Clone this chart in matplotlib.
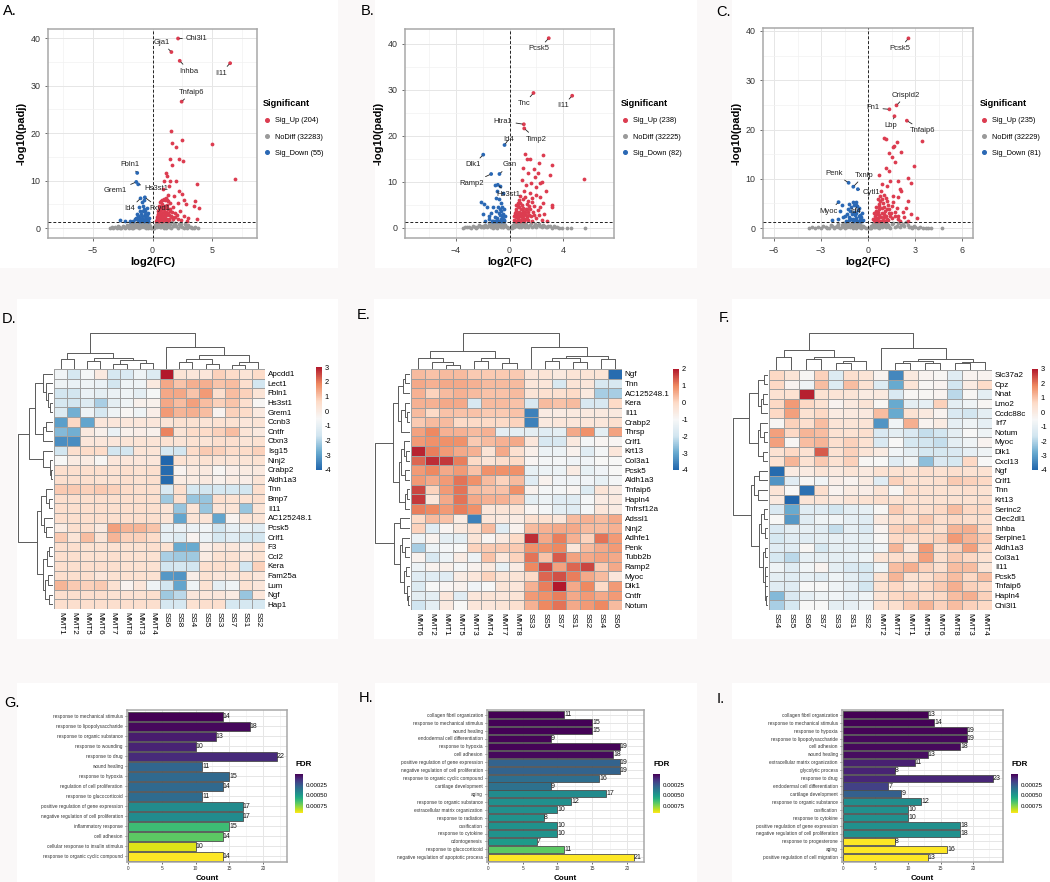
import numpy as np
import matplotlib
matplotlib.use("Agg")
import matplotlib.pyplot as plt
import matplotlib.cm as cm
from matplotlib.colors import LinearSegmentedColormap, Normalize
from matplotlib.lines import Line2D
from matplotlib.patches import Rectangle
from matplotlib.ticker import AutoMinorLocator

plt.rcParams["font.family"] = ["Liberation Sans", "DejaVu Sans"]

# ---------------- volcano data (log2FC, -log10 padj) ----------------
A_UP = [(1.56, 20.4), (2.5, 18.5), (1.61, 18.0), (1.97, 17.05), (4.97, 17.75), (1.5, 14.6), (2.2, 14.6),
        (2.55, 14.2), (1.63, 13.2), (6.92, 10.3), (3.75, 9.3), (1.14, 11.5), (1.25, 11.0), (1.5, 9.8),
        (2.0, 9.8), (1.0, 9.8), (1.4, 8.8), (2.2, 7.8), (2.47, 7.2), (3.6, 5.7), (2.67, 5.9), (3.5, 4.7),
        (3.9, 4.2), (2.78, 5.1), (3.72, 1.9), (1.8, 6.8), (2.1, 5.2), (1.3, 7.0), (0.9, 8.2), (1.7, 4.4),
        (2.3, 3.6), (1.1, 6.3), (0.8, 6.0), (1.9, 3.1), (2.6, 2.6), (3.0, 2.2), (0.6, 5.5), (1.2, 4.8),
        (1.45, 3.9), (0.7, 4.2), (0.95, 3.4), (0.5, 3.0), (1.35, 2.8), (0.85, 2.5), (1.05, 5.8), (0.45, 2.1),
        (0.65, 1.8), (1.6, 2.3), (0.75, 3.7), (1.15, 2.0), (0.4, 1.6), (0.55, 4.6), (1.25, 1.5), (0.9, 1.7),
        (1.0, 2.6), (0.6, 2.9), (0.35, 1.9), (0.8, 1.4), (1.5, 5.3), (2.4, 1.6), (2.9, 1.5), (1.75, 1.9),
        (0.7, 2.4), (1.1, 3.3), (0.5, 2.2), (1.3, 4.0), (0.95, 1.6), (2.05, 2.8), (0.42, 3.5), (0.62, 3.9),
        (0.38, 2.4), (0.48, 1.5), (0.58, 3.3), (0.68, 2.7), (0.78, 5.0), (0.88, 4.5), (0.98, 3.9),
        (1.08, 2.2), (1.18, 4.2), (1.28, 3.1), (1.38, 2.0), (1.48, 3.6), (0.52, 4.0), (0.72, 5.6),
        (0.92, 2.2), (1.12, 1.8), (1.32, 5.6), (0.62, 1.5), (0.82, 3.2), (1.02, 4.6), (1.22, 6.0),
        (0.44, 2.7), (0.66, 4.4), (0.86, 1.9), (1.06, 3.0), (0.56, 1.7), (0.76, 2.1), (0.96, 6.2),
        (1.16, 2.7), (1.36, 1.6), (1.55, 2.6), (1.65, 3.3), (1.85, 2.4), (2.15, 1.9), (0.33, 1.45)]
A_NODIFF = [(-3.6, 0.05), (-3.3, 0.1), (-3.0, 0.05), (-2.8, 0.15), (-2.6, 0.1), (-2.4, 0.3), (-2.2, 0.2),
            (-2.0, 0.05), (-1.9, 0.5), (-1.8, 0.3), (-1.7, 0.9), (-1.6, 0.1), (-1.5, 0.6), (-1.4, 1.1),
            (-1.3, 0.3), (-1.2, 0.8), (-1.1, 0.05), (-1.0, 1.2), (-0.9, 0.5), (-0.8, 0.9), (-0.7, 0.2),
            (-0.6, 1.0), (-0.5, 0.6), (-0.4, 0.3), (-0.3, 0.8), (-0.2, 0.2), (-0.1, 0.05), (0.0, 0.02),
            (0.1, 0.1), (0.2, 0.3), (0.3, 0.9), (0.4, 0.5), (0.5, 1.2), (0.6, 0.2), (0.7, 0.7), (0.8, 1.1),
            (0.9, 0.4), (1.0, 0.05), (1.1, 0.9), (1.2, 0.6), (1.3, 1.2), (1.4, 0.2), (1.5, 0.8), (1.7, 0.4),
            (1.9, 1.0), (2.1, 0.1), (2.3, 0.5), (2.5, 0.2), (2.7, 0.9), (2.9, 0.1), (3.1, 0.3), (3.3, 0.05),
            (3.5, 0.1), (3.8, 0.05), (-2.1, 0.7), (-1.25, 0.55), (0.65, 0.45), (1.65, 1.25), (2.2, 0.75),
            (-0.75, 0.4), (-3.4, 0.3), (-3.1, 0.2), (-2.9, 0.4), (-2.7, 0.05), (-2.5, 0.5), (-2.3, 0.05),
            (-2.15, 0.35), (-1.95, 0.15), (-1.85, 0.8), (-1.75, 0.05), (-1.65, 0.45), (-1.55, 1.0),
            (-1.45, 0.25), (-1.35, 0.75), (-1.15, 0.4), (-1.05, 0.7), (-0.95, 0.15), (-0.85, 0.6),
            (-0.65, 0.75), (-0.55, 0.1), (-0.45, 0.45), (-0.35, 0.1), (-0.25, 0.5), (0.15, 0.05),
            (0.25, 0.6), (0.35, 0.2), (0.45, 0.8), (0.55, 0.5), (0.75, 0.25), (0.85, 0.6), (0.95, 1.0),
            (1.05, 0.3), (1.15, 0.1), (1.25, 0.8), (1.35, 0.45), (1.45, 1.0), (1.55, 0.1), (1.8, 0.7),
            (2.0, 0.35), (2.4, 0.9), (2.6, 0.05), (2.8, 0.4), (3.0, 0.6), (3.2, 0.2), (3.6, 0.3)]
A_DOWN = [(-2.7, 1.6), (-2.3, 1.4), (-1.9, 1.5), (-1.5, 1.8), (-1.3, 3.0), (-1.1, 4.5), (-0.9, 5.5),
          (-0.8, 3.5), (-0.6, 2.5), (-0.5, 1.9), (-0.7, 4.0), (-1.0, 2.0), (-0.4, 1.5), (-0.9, 1.6),
          (-1.2, 2.5), (-0.6, 3.0), (-0.3, 2.2), (-1.6, 1.4), (-0.8, 2.0), (-0.5, 4.2), (-0.7, 6.0),
          (-1.05, 3.6), (-0.45, 2.8), (-0.65, 1.7), (-1.4, 2.2), (-0.35, 1.4), (-0.85, 2.6), (-1.15, 1.5),
          (-0.55, 2.2), (-0.75, 1.5), (-0.95, 2.9), (-1.25, 1.7), (-0.4, 3.2), (-0.62, 3.6), (-1.0, 1.45),
          (-0.82, 4.6), (-0.48, 1.45), (-1.12, 2.4)]
A_GENES = [("Chi3l1", 2.14, 39.9), ("Gja1", 1.58, 37.05), ("Inhba", 2.28, 35.2), ("Il11", 6.5, 34.7),
           ("Tnfaip6", 2.44, 26.6), ("Fbln1", -1.28, 11.6), ("Grem1", -1.36, 9.7), ("Hs3st1", -1.2, 9.2),
           ("Id4", -1.0, 6.25), ("Fxyd1", -0.64, 6.46)]
A_COUNTS = [204, 32283, 55]

B_UP = [(1.15, 16.1), (2.5, 15.9), (1.5, 15.0), (1.3, 14.9), (3.2, 13.6), (2.2, 14.2), (1.0, 13.0),
        (1.8, 12.8), (2.1, 11.9), (3.05, 11.4), (5.55, 10.6), (2.3, 9.7), (2.45, 9.9), (1.6, 9.7),
        (1.25, 9.3), (1.95, 8.8), (2.7, 8.0), (3.2, 4.9), (3.15, 4.5), (2.3, 6.7), (2.0, 7.1), (1.7, 6.5),
        (2.6, 3.0), (2.8, 1.6), (1.4, 12.0), (1.9, 11.0), (0.9, 10.5), (1.1, 8.0), (1.5, 7.5), (0.8, 7.0),
        (2.5, 5.5), (1.35, 5.8), (1.0, 6.2), (0.6, 5.5), (0.7, 4.5), (1.2, 4.2), (1.8, 4.8), (2.1, 3.8),
        (0.5, 3.6), (0.9, 3.2), (1.4, 3.4), (0.4, 2.8), (0.6, 2.2), (1.0, 2.6), (1.6, 2.5), (2.0, 2.2),
        (0.35, 1.8), (0.75, 1.6), (1.2, 1.9), (1.7, 1.5), (0.5, 1.45), (2.4, 1.8), (0.85, 4.0), (1.45, 4.8),
        (0.55, 3.0), (1.1, 3.0), (0.65, 1.9), (1.3, 2.3), (2.2, 2.8), (0.95, 5.0), (1.75, 3.5), (0.45, 2.3),
        (0.38, 3.2), (0.48, 4.1), (0.58, 1.6), (0.68, 3.4), (0.78, 2.6), (0.88, 1.8), (0.98, 4.4),
        (1.08, 1.5), (1.18, 3.5), (1.28, 5.2), (1.38, 1.7), (1.48, 2.9), (0.52, 5.0), (0.72, 6.1),
        (0.92, 2.4), (1.12, 6.8), (1.32, 4.0), (0.62, 4.8), (0.82, 5.4), (1.02, 3.7), (1.22, 2.7),
        (0.44, 1.6), (0.66, 2.8), (0.86, 3.0), (1.06, 2.0), (1.55, 4.1), (1.65, 5.6), (1.85, 2.9),
        (2.25, 4.6), (0.35, 2.5)]
B_NODIFF = [(-3.5, 0.05), (-3.2, 0.1), (-2.9, 0.05), (-2.6, 0.2), (-2.4, 0.1), (-2.2, 0.4), (-2.0, 0.15),
            (-1.8, 0.7), (-1.6, 0.3), (-1.5, 1.0), (-1.4, 0.1), (-1.3, 0.6), (-1.2, 1.2), (-1.1, 0.35),
            (-1.0, 0.9), (-0.9, 0.05), (-0.8, 1.1), (-0.7, 0.5), (-0.6, 0.8), (-0.5, 0.25), (-0.4, 0.9),
            (-0.3, 0.4), (-0.2, 0.15), (-0.1, 0.05), (0.0, 0.02), (0.1, 0.1), (0.2, 0.35), (0.3, 0.8),
            (0.4, 0.3), (0.5, 1.1), (0.6, 0.6), (0.7, 0.1), (0.8, 0.9), (0.9, 1.2), (1.0, 0.4), (1.2, 0.8),
            (1.4, 0.1), (1.6, 1.1), (1.8, 0.5), (2.0, 0.2), (2.2, 0.9), (2.4, 0.1), (2.6, 0.5), (2.8, 0.1),
            (3.0, 0.3), (3.2, 0.05), (3.4, 0.1), (3.7, 0.05), (4.3, 0.05), (4.6, 0.05), (5.6, 0.05),
            (-1.9, 0.25), (1.3, 0.3), (2.1, 0.6), (-3.35, 0.25), (-3.05, 0.15), (-2.75, 0.35), (-2.5, 0.05),
            (-2.3, 0.55), (-2.1, 0.1), (-1.95, 0.45), (-1.7, 0.1), (-1.55, 0.55), (-1.45, 0.8), (-1.35, 0.3),
            (-1.25, 0.05), (-1.15, 0.75), (-1.05, 0.2), (-0.95, 0.6), (-0.85, 0.35), (-0.75, 0.8),
            (-0.65, 0.15), (-0.55, 0.55), (-0.45, 0.1), (-0.35, 0.6), (0.15, 0.05), (0.25, 0.55),
            (0.35, 0.15), (0.45, 0.7), (0.55, 0.3), (0.65, 0.95), (0.75, 0.45), (0.85, 0.2), (0.95, 0.7),
            (1.05, 1.0), (1.15, 0.15), (1.25, 0.55), (1.5, 0.7), (1.7, 0.2), (1.9, 0.9), (2.3, 0.35),
            (2.5, 0.7), (2.7, 0.25), (2.9, 0.5), (3.3, 0.3), (3.55, 0.15), (3.9, 0.05)]
B_DOWN = [(-2.1, 5.7), (-1.9, 5.2), (-1.7, 4.5), (-2.0, 3.0), (-1.5, 2.5), (-1.2, 4.5), (-1.0, 6.5),
          (-0.9, 8.0), (-0.7, 9.0), (-1.1, 9.3), (-0.5, 7.5), (-0.6, 5.5), (-0.4, 4.0), (-0.8, 3.3),
          (-0.55, 2.5), (-1.3, 1.6), (-1.8, 1.4), (-0.4, 1.8), (-0.9, 1.5), (-0.6, 1.4), (-1.0, 3.7),
          (-0.75, 6.3), (-0.45, 3.0), (-1.4, 3.3), (-0.65, 2.0), (-0.35, 2.6), (-1.1, 2.3), (-0.85, 4.6),
          (-0.5, 1.5), (-1.55, 1.9), (-0.7, 2.7), (-0.95, 2.1), (-1.2, 1.5), (-0.48, 2.0), (-0.62, 3.6),
          (-0.8, 1.6), (-1.05, 1.45), (-0.42, 1.4), (-0.72, 4.2), (-0.58, 4.6)]
B_GENES = [("Pcsk5", 2.93, 41.2), ("Tnc", 1.79, 29.3), ("Il11", 4.68, 28.7), ("Htra1", 1.07, 22.5),
           ("Timp2", 1.1, 21.6), ("Id4", -0.37, 18.0), ("Dlk1", -1.96, 15.9), ("Gsn", -0.75, 11.7),
           ("Ramp2", -1.37, 11.7), ("Hs3st1", -0.87, 9.35)]
B_COUNTS = [238, 32225, 82]

C_UP = [(1.0, 18.3), (1.1, 18.1), (1.8, 17.5), (3.4, 17.7), (1.55, 16.5), (1.65, 16.7), (1.3, 15.2),
        (2.1, 15.4), (1.5, 14.5), (1.7, 13.5), (2.9, 12.6), (1.1, 12.2), (1.3, 11.5), (0.7, 10.8),
        (2.5, 10.2), (2.75, 9.2), (1.4, 9.5), (1.9, 9.5), (1.2, 8.5), (2.0, 8.0), (2.1, 7.5), (1.6, 6.5),
        (2.5, 5.6), (1.9, 6.3), (2.4, 4.0), (2.7, 2.8), (2.2, 3.3), (1.5, 4.5), (3.1, 2.0), (2.5, 1.5),
        (0.9, 9.0), (0.8, 7.5), (1.0, 6.8), (0.6, 6.0), (1.2, 5.5), (0.7, 4.8), (1.0, 4.2), (1.35, 3.8),
        (0.5, 3.5), (0.85, 3.0), (1.7, 3.2), (0.4, 2.5), (0.65, 2.0), (1.1, 2.4), (1.5, 2.0), (1.9, 2.5),
        (0.35, 1.6), (0.75, 1.5), (1.25, 1.7), (2.0, 1.5), (0.55, 2.9), (0.95, 5.1), (1.45, 3.0),
        (0.45, 1.9), (1.05, 1.4), (1.8, 4.0), (0.7, 3.8), (0.38, 3.1), (0.48, 4.2), (0.58, 1.5),
        (0.68, 2.6), (0.78, 5.6), (0.88, 4.0), (0.98, 2.2), (1.08, 3.4), (1.18, 1.9), (1.28, 4.6),
        (1.38, 2.4), (0.52, 2.1), (0.72, 6.6), (0.92, 1.6), (1.12, 6.1), (1.32, 3.0), (0.62, 3.3),
        (0.82, 2.2), (1.02, 2.8), (1.22, 3.9), (0.44, 1.5), (0.66, 4.4), (0.86, 5.9), (1.58, 5.3),
        (1.68, 2.4), (1.88, 1.8), (2.3, 2.2), (0.32, 1.9)]
C_NODIFF = [(-3.8, 0.05), (-3.4, 0.1), (-3.0, 0.05), (-2.7, 0.2), (-2.5, 0.1), (-2.3, 0.4), (-2.1, 0.15),
            (-1.9, 0.8), (-1.7, 0.3), (-1.6, 1.1), (-1.5, 0.1), (-1.4, 0.6), (-1.3, 1.2), (-1.2, 0.35),
            (-1.1, 0.9), (-1.0, 0.05), (-0.9, 1.1), (-0.8, 0.5), (-0.7, 0.8), (-0.6, 0.25), (-0.5, 0.9),
            (-0.4, 0.4), (-0.3, 0.15), (-0.15, 0.05), (0.0, 0.02), (0.1, 0.1), (0.2, 0.35), (0.3, 0.8),
            (0.4, 0.3), (0.5, 1.0), (0.6, 0.6), (0.7, 0.1), (0.8, 0.9), (0.9, 1.2), (1.0, 0.4), (1.2, 0.8),
            (1.4, 0.1), (1.6, 1.1), (1.8, 0.5), (2.0, 0.2), (2.2, 0.9), (2.4, 1.2), (2.6, 0.3), (2.8, 0.1),
            (3.0, 0.3), (3.2, 0.05), (3.5, 0.1), (3.8, 0.05), (4.7, 0.05), (-2.0, 0.5), (1.3, 0.3),
            (2.1, 0.6), (-3.2, 0.3), (-3.6, 0.2), (-2.9, 0.35), (-2.6, 0.05), (-2.4, 0.6), (-2.2, 0.05),
            (-1.95, 0.25), (-1.8, 0.05), (-1.65, 0.6), (-1.55, 0.35), (-1.45, 0.9), (-1.35, 0.15),
            (-1.25, 0.7), (-1.15, 0.2), (-1.05, 0.55), (-0.95, 0.3), (-0.85, 0.8), (-0.75, 0.1),
            (-0.65, 0.6), (-0.55, 0.4), (-0.45, 0.1), (-0.35, 0.5), (0.15, 0.05), (0.25, 0.5), (0.35, 0.15),
            (0.45, 0.7), (0.55, 0.3), (0.65, 0.9), (0.75, 0.45), (0.85, 0.15), (0.95, 0.7), (1.05, 1.0),
            (1.15, 0.2), (1.25, 0.6), (1.5, 0.75), (1.7, 0.15), (1.9, 1.0), (2.3, 0.35), (2.5, 0.6),
            (2.7, 0.2), (2.9, 0.45), (3.3, 0.25), (3.65, 0.05), (4.0, 0.05)]
C_DOWN = [(-2.3, 1.6), (-1.8, 3.5), (-1.7, 4.7), (-1.5, 2.5), (-1.3, 3.9), (-1.2, 4.8), (-1.0, 5.4),
          (-0.8, 5.3), (-0.9, 3.2), (-0.7, 4.4), (-0.6, 2.5), (-0.5, 1.8), (-1.1, 1.9), (-1.4, 1.5),
          (-0.8, 1.6), (-0.4, 3.0), (-1.6, 2.2), (-0.9, 4.6), (-0.65, 3.6), (-1.05, 2.8), (-0.45, 2.2),
          (-1.25, 2.2), (-0.75, 2.0), (-0.55, 1.4), (-1.9, 1.9), (-1.0, 1.5), (-0.35, 1.6), (-1.15, 3.5),
          (-0.6, 4.0), (-0.85, 2.6), (-1.35, 2.9), (-0.5, 2.7), (-0.95, 1.8), (-0.7, 1.45), (-1.2, 1.7),
          (-0.4, 1.4), (-0.78, 3.1), (-1.08, 4.2)]
C_GENES = [("Pcsk5", 2.56, 38.5), ("Crispld2", 1.8, 24.9), ("Fn1", 1.35, 24.1), ("Lbp", 1.67, 22.7),
           ("Tnfaip6", 2.46, 21.8), ("Penk", -1.25, 9.2), ("Txnip", -0.95, 8.4), ("Cytl1", -0.66, 7.9),
           ("Myoc", -1.89, 5.27), ("Id4", -0.75, 4.6)]
C_COUNTS = [235, 32229, 81]

# ---------------- heatmap data (row z-scores) ----------------
D_ROWS = ["Apcdd1", "Lect1", "Fbln1", "Hs3st1", "Grem1", "Ccnb3", "Cntfr", "Ctxn3", "Isg15", "Ninj2",
          "Crabp2", "Aldh1a3", "Tnn", "Bmp7", "Il11", "AC125248.1", "Pcsk5", "Crlf1", "F3", "Ccl2", "Kera",
          "Fam25a", "Lum", "Ngf", "Hap1"]
D_COLS = ["MMT1", "MMT2", "MMT5", "MMT6", "MMT7", "MMT8", "MMT3", "MMT4",
          "SS6", "SS8", "SS4", "SS5", "SS3", "SS7", "SS1", "SS2"]
D_VALUES = [
    [-0.7, -1.5, -0.6, 0.1, -1.5, -1.4, -0.8, -1.3, 3.0, 0.3, 0.2, 0.2, 0.8, 0.6, 0.3, 0.6],
    [-0.8, -0.9, -0.8, -0.9, -1.6, -0.8, -0.8, 0.1, 1.4, 1.0, 1.3, 1.3, 1.0, 1.1, 0.5, -1.6],
    [-1.6, -1.6, -0.9, -1.1, -0.9, -0.8, -1.1, -0.6, 1.4, 1.4, 1.0, 1.6, 0.5, 1.1, 0.8, 0.3],
    [-1.5, -1.6, -1.3, -2.1, -1.1, -0.8, -0.2, -0.2, 1.4, 1.1, 1.5, 1.1, 0.8, 1.0, 0.5, -0.4],
    [-1.3, -2.7, -0.8, -1.5, -0.8, -0.4, -0.8, -0.1, 1.6, 1.2, 1.3, 1.1, -0.3, 0.8, 0.6, 0.1],
    [-3.0, 0.7, -2.9, 0.2, 0.2, 0.2, 0.2, 0.2, 0.3, 0.4, 0.4, 0.3, 0.4, 0.4, 0.2, 0.3],
    [-2.5, -2.7, 0.1, -0.2, -0.9, -0.2, -0.1, -0.2, 1.9, 0.3, 0.6, 0.6, 0.8, 1.1, 0.3, 0.1],
    [-3.3, -3.3, 0.2, 0.2, 0.2, 0.3, 0.3, 0.3, 0.4, 0.3, 0.4, 0.3, 0.5, 0.5, 0.3, 0.4],
    [-1.6, 0.5, 0.6, 0.6, -1.6, -1.6, 0.3, 0.3, -1.5, -1.6, 0.6, 0.9, 0.8, 0.6, 0.6, 0.8],
    [-0.5, 0.0, 0.0, -0.4, 0.2, 0.2, 0.2, 0.2, -4.0, 0.4, 0.3, 0.4, 0.3, 0.3, 0.3, 0.4],
    [0.5, 0.5, 0.5, 0.5, 0.4, 0.5, 0.4, 0.5, -3.9, -0.3, 0.1, 0.1, -0.4, -0.1, 0.0, 0.1],
    [0.5, 0.5, 0.5, 0.4, 0.4, 0.5, 0.4, 0.5, -3.9, 0.0, 0.0, 0.1, -0.2, 0.0, -0.1, 0.3],
    [0.9, 0.9, 0.8, 0.9, 0.8, 0.6, 0.5, 0.5, -1.4, 0.5, -1.5, -1.6, -1.5, -1.5, -1.6, 0.5],
    [0.5, 0.5, 0.5, 0.5, 0.5, 0.5, 0.5, 0.5, -2.2, 0.5, -2.3, -2.3, 0.5, 0.4, 0.4, 0.5],
    [0.5, 0.5, 0.5, 0.5, 0.5, 0.5, 0.5, 0.5, 0.3, -2.3, 0.3, -2.3, 0.3, 0.3, -2.3, 0.3],
    [0.5, 0.5, 0.5, 0.5, 0.5, 0.5, 0.5, 0.5, 0.3, -2.9, 0.3, 0.3, -2.9, -0.3, 0.3, 0.3],
    [0.0, 0.5, 0.5, 0.1, 1.5, 1.2, 1.2, 1.0, -1.0, -0.9, -0.9, -0.7, -1.6, -1.0, -0.9, -1.2],
    [0.9, 0.3, 1.1, 0.3, 1.2, 0.8, 0.8, 0.6, -1.0, -1.3, -0.3, -0.9, -1.5, -1.2, -1.5, -1.6],
    [0.5, 0.5, 0.4, 0.4, 0.4, 0.4, 0.4, 0.5, 0.4, -2.8, -2.8, -0.1, 0.2, 0.2, -0.1, 0.4],
    [0.5, 0.5, 0.4, 0.4, 0.5, 0.4, 0.4, 0.4, -2.1, -2.2, -2.2, 0.0, 0.4, 0.4, 0.2, 0.4],
    [0.5, 0.5, 0.5, 0.5, 0.5, 0.4, 0.4, 0.4, -1.6, -1.5, -1.6, 0.5, 0.5, 0.4, -1.6, 0.8],
    [0.5, 0.5, 0.5, 0.2, 0.4, 0.4, 0.4, 0.4, -3.1, -3.2, -0.1, 0.4, 0.2, 0.2, 0.4, 0.2],
    [1.2, 0.9, 0.8, 0.9, 0.4, -0.3, 0.2, -0.8, -1.6, -2.9, -0.8, 0.4, -1.1, -0.8, 0.4, 0.2],
    [0.5, 0.5, 0.5, 0.5, 0.4, 0.4, 0.4, 0.5, -2.2, -1.9, 0.2, 0.2, 0.2, 0.0, -2.3, 0.2],
    [0.5, 0.5, 0.5, 0.5, 0.5, 0.5, 0.5, 0.5, -1.5, -1.5, 0.4, 0.5, 0.5, -1.5, -1.5, -1.5],
]
D_COL_TREE = (((0, 1, 0.28), ((2, 3, 0.22), ((4, 5, 0.14), (6, 7, 0.18), 0.24), 0.31), 0.44),
              (8, (((9, 10, 0.2), (11, 12, 0.15), 0.27), ((13, 14, 0.12), 15, 0.2), 0.4), 0.62), 1.0)
D_ROW_TREE = (((((0, (1, (2, (3, 4, 0.10), 0.15), 0.20), 0.30), ((5, 6, 0.20), 7, 0.30), 0.52),
                (8, (9, (10, 11, 0.05), 0.10), 0.30), 0.70)),
              (((12, (13, 14, 0.12), 0.2), (15, (16, 17, 0.2), 0.25), 0.35),
               (((18, 19, 0.12), 20, 0.18), ((21, 22, 0.15), (23, 24, 0.12), 0.22), 0.3), 0.45), 1.0)

E_ROWS = ["Ngf", "Tnn", "AC125248.1", "Kera", "Il11", "Crabp2", "Thrsp", "Crlf1", "Krt13", "Col3a1", "Pcsk5",
          "Aldh1a3", "Tnfaip6", "Hapln4", "Tnfrsf12a", "Adssl1", "Ninj2", "Adhfe1", "Penk", "Tubb2b", "Ramp2",
          "Myoc", "Dlk1", "Cntfr", "Notum"]
E_COLS = ["MMT6", "MMT2", "MMT1", "MMT5", "MMT3", "MMT4", "MMT7", "MMT8",
          "SS3", "SS5", "SS7", "SS1", "SS2", "SS4", "SS6"]
E_VALUES = [
    [0.4, 0.3, 0.4, 0.4, 0.2, 0.2, 0.2, 0.2, -0.4, -0.3, -0.5, -0.3, -0.3, -0.3, -3.9],
    [0.6, 0.5, 0.6, 0.6, 0.5, 0.4, 0.4, 0.4, -0.4, -0.4, -1.8, -0.3, -0.4, -1.8, -1.8],
    [0.5, 0.1, 0.4, 0.5, 0.4, 0.3, 0.3, 0.4, -0.3, -0.2, -0.2, 0.0, -0.5, -2.4, -2.4],
    [0.5, 0.5, 0.6, 0.6, -1.8, 0.4, 0.4, 0.3, -1.8, 0.4, 0.3, 0.4, -1.8, -1.8, 0.0],
    [0.4, 0.0, 0.3, 0.3, 0.3, 0.2, 0.2, 0.3, -3.6, -0.6, -0.6, -0.5, -0.5, -0.5, -0.5],
    [0.2, 0.4, 0.4, 0.0, 0.0, 0.0, 0.0, 0.1, -3.6, -0.5, -0.4, -0.4, -0.4, -0.4, -0.2],
    [0.7, 1.0, 0.5, 0.5, 0.4, 0.5, -1.5, -1.5, -1.5, -1.6, -1.5, 0.6, 0.9, -1.5, 0.7],
    [0.8, 0.9, 0.9, 0.9, 0.2, 0.4, 0.5, 0.6, -0.4, -1.8, -1.8, -0.5, -1.1, -0.9, -0.9],
    [1.9, 1.1, 0.8, 0.6, 0.5, -0.3, 0.6, -0.2, -0.7, -1.3, -1.3, -0.8, -1.6, -1.1, -0.4],
    [1.3, 1.8, 1.7, 1.1, 0.0, -0.3, -0.1, 0.0, -0.9, -1.1, -1.1, -1.2, -1.2, -1.0, -1.0],
    [0.8, 1.0, 0.6, 0.8, 0.3, 0.9, 0.9, 0.9, -1.4, -1.3, -1.3, -0.6, -1.4, -1.2, -1.0],
    [0.8, 0.6, 0.8, 1.2, 0.9, 0.4, 0.1, 0.4, -1.6, -0.8, -1.2, -1.2, -1.2, -1.4, -1.1],
    [1.6, 0.1, 0.8, 1.2, 0.4, 0.3, 0.3, 0.9, -0.8, -1.1, -1.1, -0.9, -1.7, -0.3, -0.6],
    [1.7, -0.4, 0.6, 1.2, 0.6, 0.5, 0.5, 0.3, -1.5, -1.3, -1.6, -1.6, -1.1, -0.6, -0.5],
    [1.1, 1.0, 0.8, 1.1, 0.9, -0.4, -0.3, -0.3, -0.9, -1.1, -1.5, -1.6, -1.1, -0.4, -0.6],
    [0.0, 0.4, 0.3, -0.6, -3.6, -0.4, -0.5, -0.6, -0.2, -0.2, -0.4, 0.4, 0.5, 0.4, 0.6],
    [0.1, -1.6, -0.9, -0.5, -0.2, 0.4, -1.6, -0.8, 0.4, 0.5, 0.6, 0.6, 0.4, 0.4, 0.5],
    [-1.3, -0.8, -1.5, -1.5, -0.3, -0.9, -0.5, 0.0, 1.8, 0.6, 1.1, 0.5, 0.1, 1.2, 0.8],
    [-2.4, -1.3, -1.1, -1.0, 0.1, 0.2, 0.2, 0.2, 0.9, 0.9, 1.0, -0.4, 0.4, 0.6, 0.8],
    [-0.8, -1.8, -1.3, -0.6, -1.3, 0.3, -0.4, 0.1, 1.2, 0.3, 1.4, 0.7, 0.6, 0.7, 0.6],
    [-1.3, -0.8, -0.7, -1.1, -0.8, -0.5, -1.4, -0.6, 1.0, 1.6, 0.7, 1.3, 1.6, 0.2, 0.6],
    [-1.6, -1.6, -1.6, -0.6, -0.4, 0.1, -0.3, -0.3, 0.0, 1.3, 1.5, 1.1, 0.6, 0.4, -0.4],
    [-1.7, -1.0, -0.9, -0.8, -1.2, -1.0, -0.3, -0.4, 0.5, 1.1, 2.0, 0.6, 1.0, 0.0, 0.8],
    [-1.5, -1.5, -0.4, -1.6, -0.4, -0.3, -0.4, -0.3, 0.8, 0.9, 1.1, 0.6, 0.8, 0.6, 0.8],
    [-2.0, -1.5, -0.5, -1.0, -0.4, -0.4, -0.3, -0.2, 0.5, 1.0, 1.2, 0.6, 0.8, 1.0, 0.4],
]
E_COL_TREE = (((0, (1, (2, 3, 0.12), 0.2), 0.3), ((4, 5, 0.22), (6, 7, 0.18), 0.32), 0.5),
              (8, (((9, 10, 0.22), (11, 12, 0.2), 0.3), (13, 14, 0.28), 0.36), 0.62), 1.0)
E_ROW_TREE = (((((0, 1, 0.15), 2, 0.2), ((3, (4, 5, 0.08), 0.15), 6, 0.25), 0.35),
               (((7, (8, 9, 0.12), 0.18), (10, 11, 0.15), 0.25), ((12, 13, 0.08), 14, 0.15), 0.32), 0.5),
              ((15, 16, 0.3), ((17, (18, 19, 0.15), 0.22),
                               ((20, 21, 0.12), (22, (23, 24, 0.06), 0.1), 0.18), 0.28), 0.45), 1.0)

F_ROWS = ["Slc37a2", "Cpz", "Nnat", "Lmo2", "Ccdc88c", "Irf7", "Notum", "Myoc", "Dlk1", "Cxcl13", "Ngf",
          "Crlf1", "Tnn", "Krt13", "Serinc2", "Clec2dl1", "Inhba", "Serpine1", "Aldh1a3", "Col3a1", "Il11",
          "Pcsk5", "Tnfaip6", "Hapln4", "Chi3l1"]
F_COLS = ["SS4", "SS5", "SS6", "SS7", "SS3", "SS1", "SS2",
          "MMT2", "MMT7", "MMT1", "MMT5", "MMT6", "MMT8", "MMT3", "MMT4"]
F_VALUES = [
    [0.7, 0.3, -0.4, 0.8, -1.3, 0.5, 0.3, -0.3, -3.4, 0.1, -0.3, -0.4, -1.2, -0.3, -0.3],
    [0.7, -0.3, -0.8, 1.1, -1.3, 1.1, 0.4, -1.3, -2.8, 0.3, -0.4, -0.3, -1.6, 0.0, 0.6],
    [0.4, 0.4, 2.9, 0.4, 0.3, 0.3, 0.0, 0.1, -1.4, -0.4, -0.4, -0.3, -1.9, -0.4, -1.1],
    [0.7, 1.6, 0.7, 0.4, -0.3, 0.1, 0.3, -0.4, -2.8, -1.1, -1.0, 0.8, -1.1, -0.8, -0.4],
    [0.7, 1.5, 0.4, 0.7, 0.0, 0.1, 0.1, 1.1, -2.8, 0.4, 0.1, -0.3, -1.4, -1.6, -1.1],
    [-0.4, 0.8, 0.5, 1.1, 0.3, 0.3, 0.3, -3.2, -0.7, 1.3, -0.3, 0.0, -1.0, -0.8, -1.0],
    [1.5, 0.7, 1.2, 1.1, 0.4, 0.4, 0.5, -1.4, -1.1, -1.4, -1.8, -1.6, -1.1, -0.5, -0.8],
    [1.5, -0.4, 1.1, 1.2, 0.5, 0.8, 0.4, -1.4, -0.5, -1.5, -1.6, -1.8, -1.1, -0.8, -0.3],
    [0.4, 0.7, 0.4, 2.3, 0.4, 0.8, 0.3, 0.0, -0.7, -1.1, -1.5, -1.5, -1.4, -1.0, -0.8],
    [0.4, 1.2, 0.4, 0.9, 0.4, 0.8, -0.4, -0.5, -1.2, -0.8, -2.4, -1.4, -1.5, 0.7, -0.5],
    [-3.9, 0.0, 0.0, 0.3, 0.1, 0.3, 0.1, 0.4, 0.4, 0.4, 0.5, 0.4, 0.5, 0.4, 0.4],
    [-3.2, -1.2, -0.4, -0.7, -0.1, -0.3, 0.0, -1.2, 0.8, 0.4, 0.4, 0.5, 0.9, 0.8, 0.7],
    [0.3, -0.5, -3.8, 0.5, -0.3, 0.0, -0.1, 0.3, -0.4, 0.5, 0.4, 0.4, 0.4, 0.5, 0.4],
    [0.1, -4.0, 0.3, 0.3, 0.1, 0.3, 0.4, 0.5, 0.4, 0.4, 0.4, 0.4, 0.4, 0.4, 0.5],
    [-1.4, -2.8, -1.2, -1.2, -1.6, -1.1, -1.0, -0.4, 0.9, 0.5, 0.5, 0.7, 1.1, 0.7, 0.7],
    [-0.5, -3.1, -1.2, -0.8, -0.7, -1.0, -1.2, 0.1, 0.5, 0.4, 0.9, 0.5, 0.7, 0.5, 0.5],
    [-1.4, -1.1, -1.0, -1.2, -1.8, -1.0, -1.4, -0.3, 0.8, 0.9, 0.7, 0.5, 1.2, 1.3, 0.7],
    [-1.5, -1.2, -1.2, -1.1, -1.0, -1.0, -1.1, -0.4, 0.7, 0.5, 0.7, 0.8, 1.6, 1.2, 0.9],
    [-1.2, -1.2, -0.4, -1.5, -1.1, -1.0, -1.1, -0.7, 1.2, 0.0, 1.6, 0.5, 0.8, 1.5, 0.7],
    [-1.5, -1.9, -1.0, -1.1, -1.1, -1.0, -0.8, 0.3, 0.5, 0.5, 1.5, 0.5, 0.9, 0.7, 0.4],
    [-0.8, -1.2, -0.7, -0.3, -1.1, -1.4, -1.5, -0.8, 1.1, 1.3, 0.8, 0.5, 1.1, 1.1, 0.3],
    [-1.1, -1.2, -1.0, -1.2, -0.8, -1.1, -1.4, 0.4, 1.2, 0.4, 0.5, 0.8, 1.1, 0.7, 1.1],
    [-1.2, -1.2, -0.5, -0.5, -0.8, -1.0, -1.6, 0.4, 0.7, 0.3, 0.7, 0.9, 1.3, 0.8, 0.7],
    [-2.5, -1.4, -1.0, -0.8, -0.7, -1.0, -0.8, 0.3, 0.7, 0.8, 0.5, 0.7, 1.1, 1.3, 0.8],
    [-2.1, -1.5, -0.5, -0.5, -1.1, -1.0, -0.8, 0.4, 0.5, 0.9, 1.2, 0.8, 1.1, 0.8, 0.7],
]
F_COL_TREE = (((0, 1, 0.35), ((2, 3, 0.3), ((4, 5, 0.2), 6, 0.25), 0.36), 0.55),
              (7, (((8, 9, 0.2), (10, 11, 0.18), 0.24), ((12, 13, 0.2), 14, 0.23), 0.3), 0.6), 1.0)
F_ROW_TREE = ((((0, 1, 0.12), ((2, 3, 0.15), 4, 0.2), 0.3), ((5, (6, 7, 0.12), 0.22), (8, 9, 0.15), 0.28), 0.55),
              (((10, 11, 0.25), (12, 13, 0.3), 0.4),
               (((14, 15, 0.12), (16, 17, 0.1), 0.2),
                ((18, 19, 0.1), ((20, 21, 0.08), (22, (23, 24, 0.06), 0.08), 0.1), 0.15), 0.25), 0.5), 1.0)

# ---------------- GO enrichment data ----------------
G_TERMS = ["response to mechanical stimulus", "response to lipopolysaccharide", "response to organic substance",
           "response to wounding", "response to drug", "wound healing", "response to hypoxia",
           "regulation of cell proliferation", "response to glucocorticoid",
           "positive regulation of gene expression", "negative regulation of cell proliferation",
           "inflammatory response", "cell adhesion", "cellular response to insulin stimulus",
           "response to organic cyclic compound"]
G_COUNT = [14, 18, 13, 10, 22, 11, 15, 14, 11, 17, 17, 15, 14, 10, 14]
G_FDR = [0.000001, 0.00002, 0.00007, 0.00009, 0.00011, 0.00030, 0.00031, 0.00031, 0.00032,
         0.00044, 0.00044, 0.00063, 0.00069, 0.00087, 0.00092]

H_TERMS = ["collagen fibril organization", "response to mechanical stimulus", "wound healing",
           "endodermal cell differentiation", "response to hypoxia", "cell adhesion",
           "positive regulation of gene expression", "negative regulation of cell proliferation",
           "response to organic cyclic compound", "cartilage development", "aging",
           "response to organic substance", "extracellular matrix organization", "response to radiation",
           "ossification", "response to cytokine", "odontogenesis", "response to glucocorticoid",
           "negative regulation of apoptotic process"]
H_COUNT = [11, 15, 15, 9, 19, 18, 19, 19, 16, 9, 17, 12, 10, 8, 10, 10, 7, 11, 21]
H_FDR = [0.000001, 0.000005, 0.000008, 0.00001, 0.00001, 0.00002, 0.00029, 0.00029, 0.00033, 0.00034,
         0.00044, 0.00046, 0.00046, 0.00047, 0.00047, 0.00047, 0.00050, 0.00069, 0.00092]

I_TERMS = ["collagen fibril organization", "response to mechanical stimulus", "response to hypoxia",
           "response to lipopolysaccharide", "cell adhesion", "wound healing",
           "extracellular matrix organization", "glycolytic process", "response to drug",
           "endodermal cell differentiation", "cartilage development", "response to organic substance",
           "ossification", "response to cytokine", "positive regulation of gene expression",
           "negative regulation of cell proliferation", "response to progesterone", "aging",
           "positive regulation of cell migration"]
I_COUNT = [13, 14, 19, 19, 18, 13, 11, 8, 23, 7, 9, 12, 10, 10, 18, 18, 8, 16, 13]
I_FDR = [0.000001, 0.000005, 0.00001, 0.00002, 0.00002, 0.00003, 0.00008, 0.00009, 0.00010, 0.00018,
         0.00028, 0.00045, 0.00046, 0.00046, 0.00046, 0.00046, 0.00092, 0.00092, 0.00092]

# ---------------- styling ----------------
W, H = 1050, 882
RED, GREY, BLUE = "#dc3c50", "#9a9a9a", "#2a68b4"
HEAT_CMAP = LinearSegmentedColormap.from_list(
    "rdbu", ["#2166ac", "#67a9cf", "#d1e5f0", "#f7f7f7", "#fddbc7", "#ef8a62", "#b2182b"])
GRID_MAJOR = "#e6e6e6"
GRID_MINOR = "#f2f2f2"
BORDER = "#a8a8a8"
TREE_COLOR = "#5a5a5a"
POINT_SIZE = 7.5

fig = plt.figure(figsize=(W / 100, H / 100), dpi=100, facecolor="#faf8f8")


def px_axes(x0, y0, x1, y1):
    return fig.add_axes([x0 / W, 1 - y1 / H, (x1 - x0) / W, (y1 - y0) / H])


def white_box(x0, y0, x1, y1):
    fig.patches.append(Rectangle((x0 / W, 1 - y1 / H), (x1 - x0) / W, (y1 - y0) / H,
                                 transform=fig.transFigure, facecolor="white", edgecolor="none", zorder=-10))


def letter(x, y, s):
    fig.text(x / W, 1 - y / H, s, fontsize=10.5, ha="left", va="top")


def bw_frame(ax):
    for sp in ax.spines.values():
        sp.set_color(BORDER)
        sp.set_linewidth(1.1)
    ax.set_axisbelow(True)
    ax.grid(which="major", color=GRID_MAJOR, lw=0.7)
    ax.grid(which="minor", color=GRID_MINOR, lw=0.5)
    ax.tick_params(which="minor", length=0)
    ax.tick_params(which="major", length=2, color="#555555", colors="#333333", width=0.6)


for box in [(0, 0, 338, 268), (375, 0, 697, 268), (732, 0, 1050, 268),
            (17, 299, 338, 639), (374, 299, 697, 639), (732, 299, 1050, 639),
            (17, 683, 338, 882), (375, 683, 697, 882), (732, 683, 1050, 882)]:
    white_box(*box)


def volcano(box, xlim, ylim, xticks, up, nodiff, down, genes, text_pos, counts, legend_xy):
    ax = px_axes(*box)
    ax.set_xlim(*xlim)
    ax.set_ylim(*ylim)
    ax.set_xticks(xticks)
    ax.set_yticks([0, 10, 20, 30, 40])
    ax.xaxis.set_minor_locator(AutoMinorLocator(2))
    ax.yaxis.set_minor_locator(AutoMinorLocator(2))
    bw_frame(ax)
    ax.tick_params(labelsize=6.4)
    for pts, col in [(nodiff, GREY), (up, RED), (down, BLUE)]:
        arr = np.array(pts)
        ax.scatter(arr[:, 0], arr[:, 1], s=POINT_SIZE, color=col, linewidths=0, zorder=3)
    gx = np.array([g[1] for g in genes])
    gy = np.array([g[2] for g in genes])
    ax.scatter(gx, gy, s=POINT_SIZE, color=[RED if v > 0 else BLUE for v in gx], linewidths=0, zorder=3)
    ax.axhline(-np.log10(0.05), color="#222222", lw=0.7, ls=(0, (3, 2)), zorder=4)
    ax.axvline(0, color="#222222", lw=0.7, ls=(0, (3, 2)), zorder=4)
    for (name, x, y), (tx, ty) in zip(genes, text_pos):
        ax.annotate(name, xy=(x, y), xytext=(tx, ty), ha="center", va="center", fontsize=5.5,
                    color="#222222", zorder=5,
                    arrowprops=dict(arrowstyle="-", lw=0.6, color="#222222", shrinkA=0.5, shrinkB=1.2))
    ax.set_xlabel("log2(FC)", fontsize=8, fontweight="bold", labelpad=2)
    ax.set_ylabel("-log10(padj)", fontsize=8, fontweight="bold", labelpad=3)
    labels = [f"Sig_Up ({counts[0]})", f"NoDiff ({counts[1]})", f"Sig_Down ({counts[2]})"]
    handles = [Line2D([], [], marker="o", ls="", color=c, ms=2.6) for c in (RED, GREY, BLUE)]
    ax.legend(handles, labels, title="Significant", loc="upper left",
              bbox_to_anchor=(legend_xy[0] / W, 1 - legend_xy[1] / H), bbox_transform=fig.transFigure,
              frameon=False, fontsize=5.3, title_fontproperties={"weight": "bold", "size": 6.6},
              handletextpad=0.4, labelspacing=1.25, borderpad=0, borderaxespad=0, alignment="left",
              handlelength=1.2)
    return ax


def draw_tree(ax, node, vertical):
    if not isinstance(node, tuple):
        return node + 0.5, 0.0
    left, right, h = node
    xl, hl = draw_tree(ax, left, vertical)
    xr, hr = draw_tree(ax, right, vertical)
    pos = [xl, xl, xr, xr]
    hts = [hl, h, h, hr]
    if vertical:
        ax.plot(pos, hts, color=TREE_COLOR, lw=0.7, solid_capstyle="butt")
    else:
        ax.plot(hts, pos, color=TREE_COLOR, lw=0.7, solid_capstyle="butt")
    return (xl + xr) / 2, h


def heatmap(box, col_top, row_left, values, rows, cols, col_tree, row_tree, vmin, vmax, cbar_box, cticks):
    x0, y0, x1, y1 = box
    mat = np.array(values)
    nrow, ncol = mat.shape
    ax = px_axes(*box)
    ax.pcolormesh(np.arange(ncol + 1), np.arange(nrow + 1), mat, cmap=HEAT_CMAP, vmin=vmin, vmax=vmax,
                  edgecolors="#a0a0a0", linewidth=0.5)
    ax.set_xlim(0, ncol)
    ax.set_ylim(nrow, 0)
    ax.set_xticks(np.arange(ncol) + 0.5)
    ax.set_xticklabels(cols, rotation=270, fontsize=5.8, va="top", ha="center")
    ax.yaxis.tick_right()
    ax.set_yticks(np.arange(nrow) + 0.5)
    ax.set_yticklabels(rows, fontsize=5.8)
    ax.tick_params(length=0, pad=2)
    for sp in ax.spines.values():
        sp.set_visible(False)

    cax_tree = px_axes(x0, col_top, x1, y0)
    draw_tree(cax_tree, col_tree, True)
    cax_tree.set_xlim(0, ncol)
    cax_tree.set_ylim(0, 1.01)
    cax_tree.axis("off")

    rax_tree = px_axes(row_left, y0, x0 - 1, y1)
    draw_tree(rax_tree, row_tree, False)
    rax_tree.set_xlim(1.01, 0)
    rax_tree.set_ylim(nrow, 0)
    rax_tree.axis("off")

    cax = px_axes(*cbar_box)
    cb = fig.colorbar(cm.ScalarMappable(Normalize(vmin, vmax), HEAT_CMAP), cax=cax)
    cb.set_ticks(cticks)
    cb.set_ticklabels([str(t) for t in cticks])
    cb.outline.set_visible(False)
    cax.tick_params(length=0, labelsize=5.3, pad=2)


def go_bar(box, terms, counts, fdr, cbar_box):
    ax = px_axes(*box)
    norm = Normalize(min(fdr), max(fdr))
    y = np.arange(len(terms))
    ax.barh(y, counts, height=0.9, color=plt.cm.viridis(norm(np.array(fdr))), edgecolor="#4d4d4d",
            linewidth=0.6, zorder=2)
    for yi, c in zip(y, counts):
        ax.text(c, yi, str(c), va="center", ha="left", fontsize=5, color="#1a1a1a", zorder=3)
    ax.set_yticks(y)
    ax.set_yticklabels(terms)
    ax.set_ylim(len(terms) - 0.4, -0.6)
    ax.set_xlim(-0.15, max(counts) * 1.07)
    ax.set_xticks([0, 5, 10, 15, 20])
    ax.xaxis.set_minor_locator(AutoMinorLocator(2))
    bw_frame(ax)
    ax.tick_params(labelsize=3.4, length=1.5, pad=1.5)
    ax.set_xlabel("Count", fontsize=5.8, fontweight="bold", labelpad=3)
    cx0, cy0, cx1, cy1 = cbar_box
    cax = px_axes(*cbar_box)
    cb = fig.colorbar(cm.ScalarMappable(norm, "viridis"), cax=cax)
    cax.invert_yaxis()
    cb.set_ticks([0.00025, 0.0005, 0.00075])
    cb.set_ticklabels(["0.00025", "0.00050", "0.00075"])
    cb.outline.set_visible(False)
    cax.tick_params(length=0, labelsize=4.4, pad=2)
    fig.text(cx0 / W, 1 - (cy0 - 10) / H, "FDR", fontsize=5.8, fontweight="bold", ha="left", va="center")


# ---------------- volcano panels ----------------
letter(3, 4, "A.")
volcano((48, 29, 257, 238), (-8.75, 8.75), (-2.1, 41.9), [-5, 0, 5], A_UP, A_NODIFF, A_DOWN, A_GENES,
        [(3.7, 39.9), (0.8, 39.1), (3.08, 33.05), (5.72, 32.6), (3.28, 28.6), (-1.89, 13.4), (-3.08, 7.8),
         (0.3, 8.3), (-1.89, 4.07), (0.6, 4.1)], A_COUNTS, (263, 99))
letter(361, 4, "B.")
volcano((405, 29, 614, 238), (-7.8, 7.8), (-2.2, 43.2), [-4, 0, 4], B_UP, B_NODIFF, B_DOWN, B_GENES,
        [(2.2, 38.9), (1.1, 27.0), (3.98, 26.5), (-0.47, 23.2), (1.99, 19.3), (-0.1, 19.1), (-2.69, 13.7),
         (-0.02, 13.7), (-2.84, 9.7), (-0.05, 7.2)], B_COUNTS, (621, 99))
letter(716, 5, "C.")
volcano((763, 28, 973, 238), (-6.7, 6.67), (-2.0, 40.6), [-6, -3, 0, 3, 6], C_UP, C_NODIFF, C_DOWN, C_GENES,
        [(2.0, 36.4), (2.41, 27.0), (0.3, 24.4), (1.46, 20.75), (3.47, 19.8), (-2.14, 11.1), (-0.25, 10.75),
         (0.23, 7.17), (-2.5, 3.4), (-0.8, 3.45)], C_COUNTS, (980, 99))

# ---------------- heatmap panels ----------------
letter(2, 312, "D.")
heatmap((54, 369, 265, 609), 333, 18, D_VALUES, D_ROWS, D_COLS, D_COL_TREE, D_ROW_TREE, -4, 3,
        (316, 367, 322, 470), [3, 2, 1, 0, -1, -2, -3, -4])
letter(357, 308, "E.")
heatmap((411, 369, 622, 610), 333, 375, E_VALUES, E_ROWS, E_COLS, E_COL_TREE, E_ROW_TREE, -4, 2,
        (673, 369, 679, 470), [2, 1, 0, -1, -2, -3, -4])
letter(719, 311, "F.")
heatmap((769, 370, 992, 610), 333, 733, F_VALUES, F_ROWS, F_COLS, F_COL_TREE, F_ROW_TREE, -4, 3,
        (1032, 369, 1038, 470), [3, 2, 1, 0, -1, -2, -3, -4])

# ---------------- GO bar panels ----------------
letter(4, 696, "G.")
go_bar((127, 710, 287, 862), G_TERMS, G_COUNT, G_FDR, (295, 774, 303, 813))
letter(359, 691, "H.")
go_bar((487, 710, 644, 862), H_TERMS, H_COUNT, H_FDR, (653, 774, 660, 813))
letter(717, 692, "I.")
go_bar((842, 710, 1003, 862), I_TERMS, I_COUNT, I_FDR, (1011, 774, 1018, 813))

fig.savefig("out.png", dpi=100, facecolor=fig.get_facecolor())
